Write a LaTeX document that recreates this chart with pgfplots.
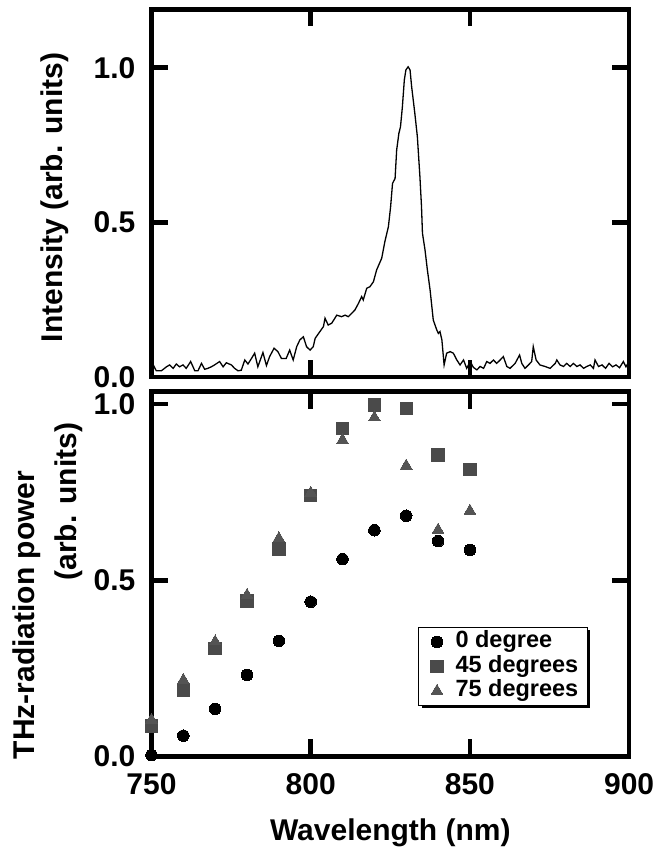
\documentclass[border=0pt]{standalone}
\usepackage{fontspec}
\setmainfont{Liberation Sans}
\usepackage{pgfplots}
\pgfplotsset{compat=1.18}
\usetikzlibrary{shadows}
\definecolor{sqcol}{gray}{0.29}
\definecolor{tricol}{gray}{0.33}
\pgfplotsset{
 myax/.style={scale only axis, width=477.6pt, xmin=750, xmax=900,
  axis line style={line width=4.5pt, line cap=rect},
  tick style={black, line width=4.5pt},
  major tick length=17pt, tick align=inside,
  xtick={750,800,850,900}, ytick={0,0.5,1}, yticklabels={0.0,0.5,1.0},
  ticklabel style={font=\fontsize{30}{36}\selectfont\bfseries},
  yticklabel style={inner sep=0pt, xshift=-16pt},
  xticklabel style={inner sep=0pt, yshift=-17pt},
  label style={font=\fontsize{30}{36}\selectfont\bfseries},
 },
 myleg/.style={legend image code/.code={\path (0pt,0pt) (22pt,0pt);
   \draw[mark repeat=2,mark phase=2,##1] plot coordinates {(0pt,0pt)(11pt,0pt)(22pt,0pt)};}},
}
\begin{document}
\begin{tikzpicture}
\useasboundingbox (-151.5pt,-90.5pt) rectangle (502.5pt,756.5pt);
% top panel: spectrum
\begin{axis}[myax, at={(0,379.5pt)}, anchor=south west, height=367.7pt,
  ymin=0, ymax=1.189, xticklabels={}]
\addplot[black, line width=1.3pt] coordinates {
(750.3,0.044) (751.5,0.020) (753.1,0.020) (754.7,0.033) (755.7,0.039) (756.8,0.028)
(757.8,0.042) (758.8,0.033) (759.9,0.039) (760.9,0.028) (762.3,0.050) (763.6,0.020)
(764.6,0.020) (765.7,0.044) (766.7,0.025) (767.7,0.028) (768.8,0.033) (769.8,0.039)
(771.4,0.050) (772.5,0.033) (773.5,0.046) (775.1,0.039) (776.1,0.028) (777.2,0.020)
(778.2,0.022) (779.3,0.055) (780.3,0.042) (781.4,0.060) (782.4,0.077) (783.4,0.033)
(785.0,0.079) (786.1,0.037) (787.1,0.066) (788.5,0.093) (789.7,0.082) (790.8,0.060)
(792.3,0.060) (793.4,0.087) (794.5,0.055) (795.6,0.098) (796.6,0.120) (797.7,0.130)
(798.7,0.098) (799.8,0.087) (800.8,0.098) (801.4,0.125) (802.9,0.147) (804.0,0.163)
(804.5,0.190) (805.5,0.168) (806.6,0.174) (808.2,0.200) (809.7,0.195) (810.8,0.200)
(811.8,0.195) (812.9,0.206) (813.9,0.217) (815.0,0.238) (816.0,0.260) (816.5,0.249)
(817.6,0.287) (818.6,0.292) (819.7,0.308) (820.7,0.346) (822.3,0.384) (822.8,0.411)
(823.3,0.438) (824.4,0.486) (825.1,0.551) (825.7,0.626) (826.5,0.642) (827.0,0.734)
(827.7,0.788) (828.2,0.809) (828.8,0.874) (829.4,0.960) (829.9,0.993) (830.6,1.003)
(831.2,0.993) (831.7,0.939) (832.7,0.853) (833.5,0.777) (834.3,0.648) (834.8,0.551)
(835.1,0.465) (835.9,0.411) (836.6,0.350) (837.5,0.281) (838.5,0.184) (839.6,0.152)
(840.1,0.141) (840.6,0.147) (841.2,0.120) (841.9,0.039) (842.7,0.077) (843.8,0.082)
(844.8,0.077) (845.9,0.055) (846.9,0.039) (848.0,0.055) (849.0,0.028) (850.1,0.050)
(851.1,0.031) (852.2,0.023) (853.2,0.034) (854.3,0.028) (855.3,0.050) (856.3,0.044)
(857.4,0.055) (858.4,0.044) (859.5,0.055) (860.5,0.066) (861.6,0.034) (862.6,0.028)
(864.2,0.044) (865.6,0.071) (866.3,0.044) (867.3,0.028) (868.4,0.039) (869.4,0.050)
(869.9,0.098) (870.8,0.055) (872.0,0.039) (873.6,0.034) (875.2,0.028) (876.8,0.044)
(877.3,0.055) (878.3,0.039) (879.4,0.034) (880.4,0.044) (881.5,0.034) (882.5,0.044)
(883.6,0.034) (884.6,0.039) (885.7,0.028) (886.7,0.034) (887.8,0.039) (888.8,0.028)
(889.3,0.055) (890.4,0.034) (891.5,0.039) (892.6,0.028) (893.7,0.044) (894.8,0.033)
(895.9,0.039) (897.0,0.030) (898.2,0.050) (899.0,0.033) (899.7,0.045)
};
\end{axis}
% bottom panel: THz power
\begin{axis}[myax, at={(0,0)}, anchor=south west, height=364.8pt,
  ymin=0, ymax=1.035, clip=false,
  xticklabels={750,800,850,900},
  xlabel={Wavelength (nm)},
  xlabel style={at={(axis description cs:0.5,-0.231)}, anchor=base},
  legend cell align=left,
  legend style={at={(axis description cs:0.558,0.355)}, anchor=north west,
    draw=black, line width=1pt, fill=white,
    inner xsep=7pt, inner ysep=3.5pt, column sep=5pt,
    font=\fontsize{23.5}{24}\selectfont\bfseries,
    drop shadow={shadow xshift=3pt, shadow yshift=-3pt, fill=black, opacity=1},
    row sep=2.5pt,
    nodes={inner xsep=2pt, inner ysep=0pt, text height=17pt, text depth=5pt}}]
\addplot[only marks, mark=*, mark size=5.8pt, mark options={fill=black, draw=black, line width=0pt}, myleg] coordinates {
(750,0.004) (760,0.059) (770,0.135) (780,0.231) (790,0.328) (800,0.439)
(810,0.560) (820,0.642) (830,0.683) (840,0.611) (850,0.586)};
\addlegendentry{0 degree}
\addplot[only marks, mark=square*, mark size=6.2pt, mark options={fill=sqcol, draw=sqcol, line width=0pt}, myleg] coordinates {
(750,0.087) (760,0.189) (770,0.307) (780,0.441) (790,0.589) (800,0.740)
(810,0.931) (820,0.997) (830,0.988) (840,0.855) (850,0.815)};
\addlegendentry{45 degrees}
\addplot[only marks, mark=triangle*, mark size=6.7pt, mark options={fill=tricol, draw=tricol, line width=0pt}, myleg] coordinates {
(750,0.104) (760,0.217) (770,0.326) (780,0.458) (790,0.619) (800,0.748)
(810,0.898) (820,0.962) (830,0.825) (840,0.643) (850,0.697)};
\addlegendentry{75 degrees}
\end{axis}
% axis titles (placed in picture coordinates)
\node[rotate=90, anchor=center, font=\fontsize{30}{36}\selectfont\bfseries] at (-96.5pt,558.9pt) {Intensity (arb. units)};
\node[rotate=90, anchor=center, font=\fontsize{30}{36}\selectfont\bfseries] at (-124.8pt,141.5pt) {THz-radiation power};
\node[rotate=90, anchor=center, font=\fontsize{30}{36}\selectfont\bfseries] at (-83.2pt,254.8pt) {(arb. units)};
\end{tikzpicture}
\end{document}
